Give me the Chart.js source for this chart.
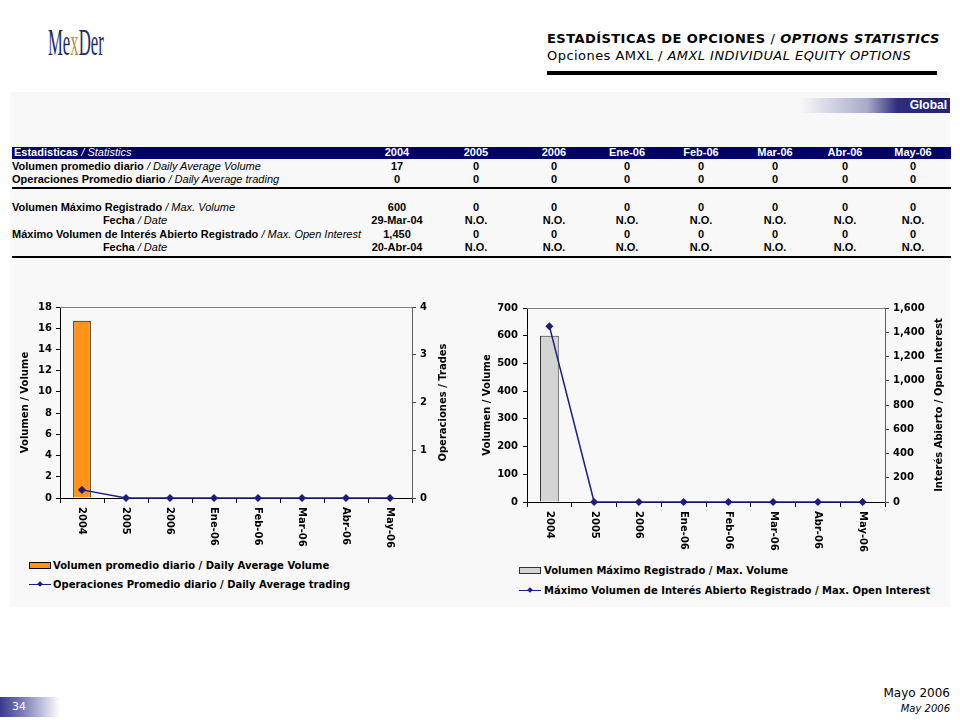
<!DOCTYPE html>
<html>
<head>
<meta charset="utf-8">
<script src="https://cdn.jsdelivr.net/npm/chart.js@4.4.0/dist/chart.umd.min.js"></script>
<style>
  body { margin: 0; width: 960px; height: 720px; background: #fff; position: relative; overflow: hidden; font-family: "DejaVu Sans", sans-serif; }
  .abs { position: absolute; white-space: nowrap; }
  #panel { left: 10px; top: 92px; width: 940px; height: 515px; background: #f8f8f8; }
  .tbl { font: bold 11px "Liberation Sans", Arial, sans-serif; line-height: 13px; color: #000; }
  .tbl i { font-weight: normal; }
  .cell { width: 70px; text-align: center; }
  .legend { font: bold 10px "DejaVu Sans", sans-serif; color: #000; }
  .sw-bar { position: absolute; width: 20px; height: 5px; border: 1px solid #000; }
  .sw-line { position: absolute; width: 22px; height: 0; border-top: 1.5px solid #1c1c80; }
  .sw-dot { position: absolute; width: 4px; height: 4px; background: #1c1c80; transform: rotate(45deg); }
</style>
</head>
<body>
<div class="abs" style="left:48px;top:20px;font:38px 'Liberation Serif',serif;color:#1b2d6b;transform:scaleX(0.44);transform-origin:left">Me<span style="color:#c98a3a">x</span>Der</div>

<div class="abs" style="left:547px;top:31px;font:bold 13px 'DejaVu Sans',sans-serif;letter-spacing:0.45px;color:#000">ESTADÍSTICAS DE OPCIONES <span style="font-weight:normal">/</span> <i>OPTIONS STATISTICS</i></div>
<div class="abs" style="left:547px;top:48px;font:13px 'DejaVu Sans',sans-serif;letter-spacing:0.45px;color:#000">Opciones AMXL / <i>AMXL INDIVIDUAL EQUITY OPTIONS</i></div>
<div class="abs" style="left:547px;top:71px;width:390px;height:4px;background:#000"></div>

<div class="abs" id="panel"></div>
<div class="abs" style="left:800px;top:98px;width:150px;height:15px;background:linear-gradient(to right,#f8f8f8 0%,#a9a9cc 45%,#2d2d7e 65%,#23236f 100%)"></div>
<div class="abs" style="left:800px;top:98px;width:147px;height:15px;text-align:right;font:bold 12px 'Liberation Sans',Arial,sans-serif;line-height:15px;color:#fff">Global</div>

<div id="table"></div>

<canvas id="chartLeft" class="abs" style="left:12px;top:297px" width="456" height="255"></canvas>
<canvas id="chartRight" class="abs" style="left:476px;top:297px" width="474" height="255"></canvas>

<div class="abs legend" style="left:29px;top:559px;line-height:13px">
  <span class="sw-bar" style="left:0;top:3px;background:#FF9416"></span>
  <span style="position:absolute;left:24px;top:0">Volumen promedio diario / Daily Average Volume</span>
</div>
<div class="abs legend" style="left:29px;top:578px;line-height:13px">
  <span class="sw-line" style="left:0;top:6px"></span>
  <span class="sw-dot" style="left:9px;top:4px"></span>
  <span style="position:absolute;left:24px;top:0">Operaciones Promedio diario / Daily Average trading</span>
</div>
<div class="abs legend" style="left:519px;top:564px;line-height:13px">
  <span class="sw-bar" style="left:0;top:3px;background:#D4D4D4;border-color:#333"></span>
  <span style="position:absolute;left:25px;top:0">Volumen Máximo Registrado / Max. Volume</span>
</div>
<div class="abs legend" style="left:519px;top:584px;line-height:13px">
  <span class="sw-line" style="left:0;top:6px"></span>
  <span class="sw-dot" style="left:9px;top:4px"></span>
  <span style="position:absolute;left:25px;top:0">Máximo Volumen de Interés Abierto Registrado / Max. Open Interest</span>
</div>

<div class="abs" style="right:10px;top:686px;font:12px 'DejaVu Sans',sans-serif;color:#000">Mayo 2006</div>
<div class="abs" style="right:10px;top:703px;font:italic 10px 'DejaVu Sans',sans-serif;color:#000">May 2006</div>
<div class="abs" style="left:0;top:697px;width:60px;height:20px;background:linear-gradient(to right,#3a3a8c 0%,#8080b8 40%,#fff 100%)"></div>
<div class="abs" style="left:12px;top:700px;font:11px 'DejaVu Sans',sans-serif;color:#fff">34</div>

<script>
// categories / columns
const categories = ['2004', '2005', '2006', 'Ene-06', 'Feb-06', 'Mar-06', 'Abr-06', 'May-06'];

// chart series
const dailyAvgVolume = [16.7, 0, 0, 0, 0, 0, 0, 0];
const dailyAvgTrading = [0.17, 0, 0, 0, 0, 0, 0, 0];
const maxVolume = [600, 0, 0, 0, 0, 0, 0, 0];
const maxOpenInterest = [1450, 0, 0, 0, 0, 0, 0, 0];

// table texts
const rowVolume = ['17', '0', '0', '0', '0', '0', '0', '0'];
const rowTrading = ['0', '0', '0', '0', '0', '0', '0', '0'];
const rowMaxVolume = ['600', '0', '0', '0', '0', '0', '0', '0'];
const rowMaxVolumeDate = ['29-Mar-04', 'N.O.', 'N.O.', 'N.O.', 'N.O.', 'N.O.', 'N.O.', 'N.O.'];
const rowMaxOI = ['1,450', '0', '0', '0', '0', '0', '0', '0'];
const rowMaxOIDate = ['20-Abr-04', 'N.O.', 'N.O.', 'N.O.', 'N.O.', 'N.O.', 'N.O.', 'N.O.'];

// axis ranges
const leftVolTicks = { max: 18, step: 2 };
const leftTradeTicks = { max: 4, step: 1 };
const rightVolTicks = { max: 700, step: 100 };
const rightOITicks = { max: 1600, step: 200 };

// ---- table ----
const colX = [397, 476, 554, 627, 701, 775, 845, 913];
let html = '';
html += '<div class="abs" style="left:12px;top:147px;width:939px;height:12px;background:#000066"></div>';
html += '<div class="abs tbl" style="left:14px;top:146px;color:#fff">Estadisticas <i>/ Statistics</i></div>';
categories.forEach((c, i) => {
    html += '<div class="abs tbl cell" style="left:' + (colX[i] - 35) + 'px;top:146px;color:#fff">' + c + '</div>';
});

function addRow(y, label, values, centered) {
    if (centered) {
        html += '<div class="abs tbl" style="left:60px;width:150px;text-align:center;top:' + (y - 7) + 'px">' + label + '</div>';
    } else {
        html += '<div class="abs tbl" style="left:12px;top:' + (y - 7) + 'px">' + label + '</div>';
    }
    values.forEach((v, i) => {
        html += '<div class="abs tbl cell" style="left:' + (colX[i] - 35) + 'px;top:' + (y - 7) + 'px">' + v + '</div>';
    });
}
addRow(167, 'Volumen promedio diario <i>/ Daily Average Volume</i>', rowVolume);
addRow(180, 'Operaciones Promedio diario <i>/ Daily Average trading</i>', rowTrading);
html += '<div class="abs" style="left:12px;top:187px;width:939px;height:2px;background:#000"></div>';
addRow(208, 'Volumen Máximo Registrado <i>/ Max. Volume</i>', rowMaxVolume);
addRow(221, 'Fecha <i>/ Date</i>', rowMaxVolumeDate, true);
addRow(235, 'Máximo Volumen de Interés Abierto Registrado <i>/ Max. Open Interest</i>', rowMaxOI);
addRow(248, 'Fecha <i>/ Date</i>', rowMaxOIDate, true);
html += '<div class="abs" style="left:12px;top:256px;width:939px;height:2px;background:#000"></div>';
document.getElementById('table').innerHTML = html;

// ---- charts ----
const tickFont = { family: 'DejaVu Sans', size: 10, weight: 'bold' };
const navy = '#1c1c80';

// x labels read top-to-bottom, right axis title bottom-to-top
const excelLabels = {
    id: 'excelLabels',
    beforeDatasetsDraw(chart) {
        const a = chart.chartArea;
        const ctx = chart.ctx;
        ctx.save();
        ctx.strokeStyle = '#808080';
        ctx.lineWidth = 1;
        ctx.beginPath();
        ctx.moveTo(a.left, a.top + 0.5);
        ctx.lineTo(a.right, a.top + 0.5);
        ctx.stroke();
        ctx.restore();
    },
    afterDraw(chart, args, opts) {
        const ctx = chart.ctx;
        const xs = chart.scales.x;
        ctx.save();
        ctx.font = 'bold 10px "DejaVu Sans"';
        ctx.fillStyle = '#000';
        ctx.textAlign = 'left';
        ctx.textBaseline = 'middle';
        chart.data.labels.forEach((lbl, i) => {
            ctx.save();
            ctx.translate(xs.getPixelForTick(i), xs.top + 9);
            ctx.rotate(Math.PI / 2);
            ctx.fillText(lbl, 0, 0);
            ctx.restore();
        });
        const a = chart.chartArea;
        ctx.translate(opts.titleX, (a.top + a.bottom) / 2);
        ctx.rotate(-Math.PI / 2);
        ctx.textAlign = 'center';
        ctx.fillText(opts.text, 0, 0);
        ctx.restore();
    }
};

function makeChart(id, cfg) {
    const ctx = document.getElementById(id).getContext('2d');
    return new Chart(ctx, {
        type: 'bar',
        data: {
            labels: categories,
            datasets: [{
                type: 'line',
                data: cfg.lineData,
                yAxisID: 'y1',
                borderColor: navy,
                borderWidth: 1.5,
                pointStyle: 'rectRot',
                pointRadius: 3,
                pointBackgroundColor: navy,
                pointBorderColor: navy,
                clip: false,
                order: 0
            }, {
                data: cfg.barData,
                yAxisID: 'y',
                backgroundColor: cfg.barColor,
                borderColor: cfg.barBorder,
                borderWidth: 1,
                barPercentage: cfg.barPct,
                categoryPercentage: 1,
                order: 1
            }]
        },
        options: {
            responsive: false,
            animation: false,
            devicePixelRatio: 1,
            layout: { padding: { top: 10, left: 0, right: 0, bottom: 0 } },
            plugins: {
                legend: { display: false },
                tooltip: { enabled: false },
                excelLabels: { text: cfg.rightTitle, titleX: cfg.rightTitleX }
            },
            scales: {
                x: {
                    offset: true,
                    grid: { offset: true, drawOnChartArea: false, tickLength: 5, color: '#000' },
                    border: { color: '#000' },
                    ticks: { color: 'rgba(0,0,0,0)', minRotation: 90, maxRotation: 90, font: tickFont },
                    afterFit: s => { s.height = cfg.xHeight; }
                },
                y: {
                    position: 'left',
                    min: 0,
                    max: cfg.leftTicks.max,
                    ticks: { stepSize: cfg.leftTicks.step, font: tickFont, color: '#000', padding: cfg.leftPad },
                    grid: { drawOnChartArea: false, tickLength: 4, color: '#000' },
                    border: { color: '#000' },
                    title: { display: true, text: 'Volumen / Volume', font: tickFont, color: '#000', padding: { top: cfg.titlePad, bottom: 0 } },
                    afterFit: s => { s.width = cfg.leftWidth; }
                },
                y1: {
                    position: 'right',
                    min: 0,
                    max: cfg.rightTicks.max,
                    ticks: {
                        stepSize: cfg.rightTicks.step, font: tickFont, color: '#000', padding: 4,
                        callback: v => v.toLocaleString('en-US')
                    },
                    grid: { drawOnChartArea: false, tickLength: 4, color: '#404040' },
                    border: { color: '#606060' },
                    afterFit: s => { s.width = cfg.rightWidth; }
                }
            }
        },
        plugins: [excelLabels]
    });
}

makeChart('chartLeft', {
    barData: dailyAvgVolume,
    lineData: dailyAvgTrading,
    barColor: '#FF9416',
    barBorder: '#000',
    barPct: 0.4,
    leftTicks: leftVolTicks,
    rightTicks: leftTradeTicks,
    rightTitle: 'Operaciones / Trades',
    rightTitleX: 431,
    leftWidth: 48,
    rightWidth: 56,
    leftPad: 4,
    titlePad: 7,
    xHeight: 54
});

makeChart('chartRight', {
    barData: maxVolume,
    lineData: maxOpenInterest,
    barColor: '#D4D4D4',
    barBorder: '#333',
    barPct: 0.42,
    leftTicks: rightVolTicks,
    rightTicks: rightOITicks,
    rightTitle: 'Interés Abierto / Open Interest',
    rightTitleX: 463,
    leftWidth: 51,
    rightWidth: 65,
    leftPad: 5,
    titlePad: 5,
    xHeight: 50
});
</script>
</body>
</html>
